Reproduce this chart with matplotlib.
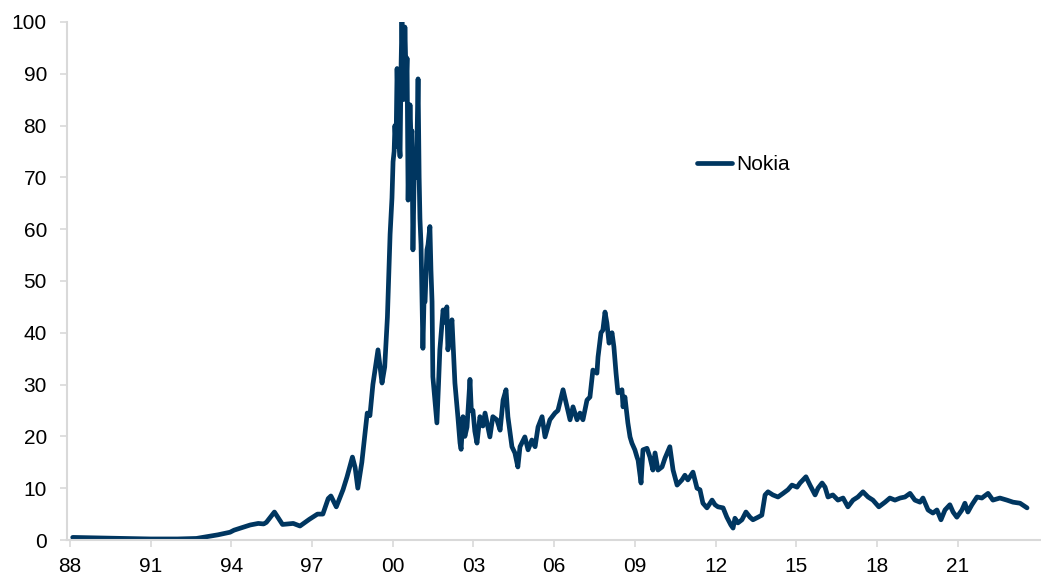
import matplotlib
matplotlib.use('Agg')
import matplotlib.pyplot as plt

plt.rcParams['font.family'] = ['Liberation Sans', 'DejaVu Sans']

# Nokia share price (decimal year, price)
years = [
    1988.1, 1989.0, 1990.0, 1991.0, 1992.0, 1992.7, 1993.5, 1993.95, 1994.1, 1994.7,
    1995.0, 1995.2, 1995.3, 1995.6, 1995.9, 1996.3, 1996.55, 1996.9, 1997.2, 1997.4,
    1997.6, 1997.7, 1997.9, 1998.15, 1998.3, 1998.5, 1998.6, 1998.7, 1998.85, 1999.05,
    1999.15, 1999.26, 1999.45, 1999.6, 1999.7, 1999.8, 1999.9, 1999.97, 2000.01, 2000.05,
    2000.08, 2000.12, 2000.16, 2000.22, 2000.27, 2000.31, 2000.34, 2000.40, 2000.45, 2000.50,
    2000.53, 2000.57, 2000.61, 2000.64, 2000.68, 2000.71, 2000.75, 2000.80, 2000.85, 2000.90,
    2000.94, 2000.98, 2001.01, 2001.05, 2001.12, 2001.16, 2001.20, 2001.27, 2001.31, 2001.38,
    2001.42, 2001.46, 2001.49, 2001.55, 2001.64, 2001.70, 2001.75, 2001.87, 2001.95, 2002.01,
    2002.05, 2002.12, 2002.20, 2002.31, 2002.42, 2002.50, 2002.54, 2002.61, 2002.68, 2002.76,
    2002.87, 2002.92, 2002.98, 2003.05, 2003.13, 2003.24, 2003.35, 2003.43, 2003.61, 2003.72,
    2003.87, 2003.99, 2004.10, 2004.21, 2004.28, 2004.43, 2004.54, 2004.65, 2004.73, 2004.91,
    2005.03, 2005.17, 2005.29, 2005.40, 2005.55, 2005.66, 2005.84, 2006.03, 2006.14, 2006.33,
    2006.48, 2006.59, 2006.70, 2006.85, 2006.96, 2007.07, 2007.22, 2007.33, 2007.44, 2007.59,
    2007.63, 2007.74, 2007.81, 2007.89, 2007.96, 2008.04, 2008.15, 2008.22, 2008.30, 2008.37,
    2008.45, 2008.52, 2008.56, 2008.63, 2008.74, 2008.82, 2008.89, 2009.00, 2009.08, 2009.12,
    2009.23, 2009.30, 2009.45, 2009.56, 2009.67, 2009.75, 2009.86, 2010.01, 2010.12, 2010.30,
    2010.42, 2010.57, 2010.75, 2010.86, 2010.97, 2011.16, 2011.31, 2011.42, 2011.53, 2011.68,
    2011.87, 2011.98, 2012.09, 2012.28, 2012.42, 2012.57, 2012.65, 2012.72, 2012.83, 2012.98,
    2013.13, 2013.28, 2013.39, 2013.58, 2013.72, 2013.84, 2013.95, 2014.13, 2014.32, 2014.51,
    2014.69, 2014.84, 2015.03, 2015.14, 2015.36, 2015.51, 2015.70, 2015.81, 2015.96, 2016.07,
    2016.18, 2016.36, 2016.55, 2016.74, 2016.92, 2017.11, 2017.29, 2017.48, 2017.67, 2017.85,
    2018.07, 2018.30, 2018.48, 2018.67, 2018.86, 2019.04, 2019.23, 2019.41, 2019.60, 2019.71,
    2019.90, 2020.08, 2020.23, 2020.38, 2020.53, 2020.71, 2020.83, 2020.97, 2021.16, 2021.27,
    2021.38, 2021.53, 2021.72, 2021.90, 2022.13, 2022.31, 2022.57, 2022.83, 2023.06, 2023.32,
    2023.58,
]
price = [
    0.5, 0.4, 0.3, 0.2, 0.2, 0.3, 1.0, 1.5, 1.9, 2.9,
    3.2, 3.1, 3.4, 5.4, 3.0, 3.2, 2.7, 4.0, 5.0, 5.0,
    8.0, 8.5, 6.4, 9.7, 12.2, 16.0, 14.0, 10.0, 15.0, 24.5,
    24.0, 30.0, 36.7, 30.3, 33.4, 43.0, 59.0, 66.0, 73.0, 75.0,
    80.0, 76.0, 91.0, 78.0, 74.0, 92.0, 100.0, 85.0, 99.0, 88.0,
    93.0, 65.6, 78.0, 84.0, 77.0, 79.0, 56.0, 72.0, 70.0, 77.0,
    89.0, 70.0, 62.0, 57.0, 37.0, 46.0, 46.0, 56.0, 57.0, 60.5,
    52.0, 46.0, 31.5, 28.0, 22.6, 30.0, 36.7, 44.4, 42.0, 45.0,
    36.7, 40.0, 42.5, 30.3, 23.8, 18.7, 17.5, 23.8, 20.0, 21.8,
    31.0, 25.0, 25.0, 21.0, 18.7, 23.8, 22.0, 24.5, 19.9, 23.8,
    23.2, 21.2, 27.0, 29.0, 23.8, 18.0, 16.8, 14.1, 18.0, 19.9,
    17.4, 19.3, 18.0, 21.8, 23.8, 19.9, 23.2, 24.5, 25.0, 29.0,
    25.7, 23.2, 25.7, 23.2, 24.5, 23.2, 27.0, 27.6, 32.8, 32.2,
    35.3, 40.0, 40.5, 44.0, 41.9, 38.0, 40.0, 37.3, 32.2, 28.4,
    28.6, 29.0, 25.7, 27.6, 22.6, 19.9, 18.7, 17.4, 16.0, 15.4,
    11.0, 17.4, 17.7, 16.0, 13.5, 16.8, 13.5, 14.1, 15.8, 18.0,
    13.5, 10.6, 11.6, 12.5, 11.6, 13.1, 10.0, 9.7, 7.1, 6.2,
    7.7, 6.8, 6.4, 6.2, 4.4, 2.9, 2.3, 4.2, 3.3, 3.9,
    5.4, 4.4, 3.9, 4.4, 4.8, 8.7, 9.3, 8.7, 8.3, 9.0,
    9.7, 10.6, 10.2, 11.0, 12.2, 10.6, 8.7, 10.0, 11.0, 10.2,
    8.3, 8.7, 7.7, 8.1, 6.4, 7.7, 8.3, 9.3, 8.3, 7.7,
    6.4, 7.3, 8.1, 7.7, 8.1, 8.3, 9.0, 7.7, 7.3, 8.1,
    5.8, 5.2, 5.8, 3.9, 5.8, 6.8, 5.4, 4.4, 5.8, 7.1,
    5.4, 6.8, 8.3, 8.1, 9.0, 7.7, 8.1, 7.7, 7.3, 7.1,
    6.2,
]
tick_years = list(range(1988, 2022, 3))
tick_labels = ['88', '91', '94', '97', '00', '03', '06', '09', '12', '15', '18', '21']

fig = plt.figure(figsize=(10.41, 5.76), dpi=100)
ax = fig.add_axes([0.0644, 0.0625, 0.9346, 0.8995])

ax.plot(years, price, color='#003660', linewidth=3.4, solid_joinstyle='round',
        solid_capstyle='round', label='Nokia')

ax.set_xlim(1987.89, 2024.06)
ax.set_ylim(0, 100)
ax.set_yticks(range(0, 101, 10))
ax.set_xticks(tick_years)
ax.set_xticklabels(tick_labels)

for side in ['top', 'right']:
    ax.spines[side].set_visible(False)
for side in ['left', 'bottom']:
    ax.spines[side].set_color('#d9d9d9')
    ax.spines[side].set_linewidth(1.5)
ax.tick_params(axis='both', direction='out', length=5, width=1.2, color='#d9d9d9',
               labelsize=15, labelcolor='black')
ax.tick_params(axis='y', pad=9.5)
ax.tick_params(axis='x', pad=7)

ax.legend(loc='center left', bbox_to_anchor=(0.647, 0.724), frameon=False,
          fontsize=15, handlelength=1.7, handletextpad=0.2, borderpad=0, borderaxespad=0)

fig.savefig('out.png', dpi=100)
